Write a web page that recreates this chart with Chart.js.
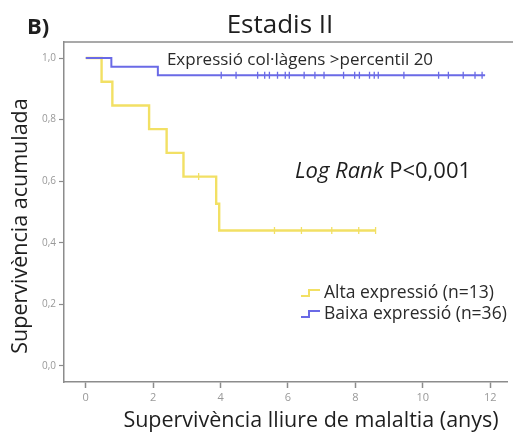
<!DOCTYPE html>
<html>
<head>
<meta charset="utf-8">
<script src="https://cdn.jsdelivr.net/npm/chart.js@4/dist/chart.umd.min.js"></script>
<style>
  html, body { margin: 0; padding: 0; background: #fff; }
  #wrap { width: 513px; height: 435px; }
</style>
</head>
<body>
<div id="wrap"><canvas id="km"></canvas></div>
<script>
// Kaplan-Meier curves, stage II, collagen expression
const altaTimes = [0, 0.47, 0.79, 1.88, 2.40, 2.90, 3.87, 3.96, 8.60];
const altaSurv = [1, 0.923, 0.846, 0.769, 0.692, 0.615, 0.527, 0.44, 0.44];
const altaCensored = [3.35, 5.6, 6.4, 7.3, 8.1, 8.6];

const baixaTimes = [0, 0.76, 2.14, 11.85];
const baixaSurv = [1, 0.972, 0.944, 0.944];
const baixaCensored = [4.02, 4.46, 5.10, 5.31, 5.45, 5.69, 5.92, 6.04, 6.48, 6.80, 7.07,
    7.65, 7.98, 8.12, 8.42, 8.56, 8.68, 9.44, 10.47, 10.76, 11.20, 11.55, 11.76];

const xTicks = [0, 2, 4, 6, 8, 10, 12];
const yTicks = [0, 0.2, 0.4, 0.6, 0.8, 1.0];

const altaColor = "#f2e064";
const baixaColor = "#6a6ae6";
const axisColor = "#8c8c8c";
const font = "'Open Sans', 'Noto Sans', sans-serif";

function curve(times, surv) {
    return times.map((t, i) => ({ x: t, y: surv[i] }));
}

// survival value of a step curve at time t
function survAt(times, surv, t) {
    let s = surv[0];
    for (let i = 0; i < times.length; i++) {
        if (times[i] <= t) s = surv[i];
    }
    return s;
}

function marks(censored, times, surv) {
    return censored.map(t => ({ x: t, y: survAt(times, surv, t) }));
}

const textPlugin = {
    id: "texts",
    afterDraw(chart) {
        const ctx = chart.ctx;
        const a = chart.chartArea;
        ctx.save();

        // top frame line
        ctx.strokeStyle = axisColor;
        ctx.lineWidth = 1.5;
        ctx.beginPath();
        ctx.moveTo(a.left, a.top);
        ctx.lineTo(513, a.top);
        ctx.stroke();

        ctx.fillStyle = "#1e1e1e";
        ctx.textBaseline = "middle";

        ctx.font = "bold 22px " + font;
        ctx.textAlign = "left";
        ctx.fillText("B)", 27, 28);

        ctx.font = "26px " + font;
        ctx.textAlign = "center";
        ctx.fillText("Estadis II", 280, 26);

        ctx.font = "17px " + font;
        ctx.fillStyle = "#2a2a2a";
        ctx.fillText("Expressió col·làgens >percentil 20", 300, 60);

        // log rank
        ctx.textAlign = "left";
        ctx.font = "italic 22px " + font;
        ctx.fillStyle = "#1e1e1e";
        const lr = "Log Rank ";
        ctx.fillText(lr, 295, 172);
        const w = ctx.measureText(lr).width;
        ctx.font = "22px " + font;
        ctx.fillText("P<0,001", 295 + w, 172);

        // legend
        const items = [
            { label: "Alta expressió (n=13)", color: altaColor, y: 293 },
            { label: "Baixa expressió (n=36)", color: baixaColor, y: 314 }
        ];
        items.forEach(it => {
            ctx.strokeStyle = it.color;
            ctx.lineWidth = 2;
            ctx.beginPath();
            ctx.moveTo(301, it.y + 3);
            ctx.lineTo(309, it.y + 3);
            ctx.lineTo(309, it.y - 3);
            ctx.lineTo(320, it.y - 3);
            ctx.stroke();
            ctx.fillStyle = "#2a2a2a";
            ctx.font = "17.5px " + font;
            ctx.fillText(it.label, 324, it.y);
        });

        // axis titles
        ctx.fillStyle = "#1e1e1e";
        ctx.font = "21.5px " + font;
        ctx.textAlign = "center";
        ctx.fillText("Supervivència lliure de malaltia (anys)", 311, 421);

        ctx.translate(21, 226);
        ctx.rotate(-Math.PI / 2);
        ctx.fillText("Supervivència acumulada", 0, 0);
        ctx.restore();
    }
};

new Chart(document.getElementById("km"), {
    type: "scatter",
    data: {
        datasets: [
            {
                data: curve(baixaTimes, baixaSurv),
                showLine: true,
                stepped: true,
                borderColor: baixaColor,
                borderWidth: 2,
                pointRadius: 0
            },
            {
                data: curve(altaTimes, altaSurv),
                showLine: true,
                stepped: true,
                borderColor: altaColor,
                borderWidth: 2.4,
                pointRadius: 0
            },
            {
                data: marks(baixaCensored, baixaTimes, baixaSurv),
                pointStyle: "line",
                rotation: 90,
                pointRadius: 3.5,
                borderColor: baixaColor,
                borderWidth: 1.3
            },
            {
                data: marks(altaCensored, altaTimes, altaSurv),
                pointStyle: "line",
                rotation: 90,
                pointRadius: 3.5,
                borderColor: altaColor,
                borderWidth: 1.3
            }
        ]
    },
    options: {
        responsive: true,
        maintainAspectRatio: false,
        animation: false,
        layout: { padding: { top: 42, left: 0, right: 0, bottom: 0 } },
        plugins: {
            legend: { display: false },
            tooltip: { enabled: false }
        },
        scales: {
            x: {
                type: "linear",
                min: -0.645,
                max: 12.52,
                afterFit(s) { s.height = 53; },
                afterBuildTicks(s) { s.ticks = xTicks.map(v => ({ value: v })); },
                grid: { drawOnChartArea: false, tickLength: 6, tickColor: axisColor, tickWidth: 1.5 },
                border: { color: axisColor, width: 1.5 },
                ticks: { color: "#999", font: { size: 11, family: font }, padding: 3 }
            },
            y: {
                min: -0.052,
                max: 1.052,
                afterFit(s) { s.width = 64; },
                afterBuildTicks(s) { s.ticks = yTicks.map(v => ({ value: v })); },
                grid: { drawOnChartArea: false, tickLength: 5, tickColor: axisColor, tickWidth: 1.2 },
                border: { color: axisColor, width: 1.5 },
                ticks: {
                    color: "#999",
                    font: { size: 10, family: font },
                    padding: 3,
                    callback: v => v.toFixed(1).replace(".", ",")
                }
            }
        }
    },
    plugins: [textPlugin]
});
</script>
</body>
</html>
